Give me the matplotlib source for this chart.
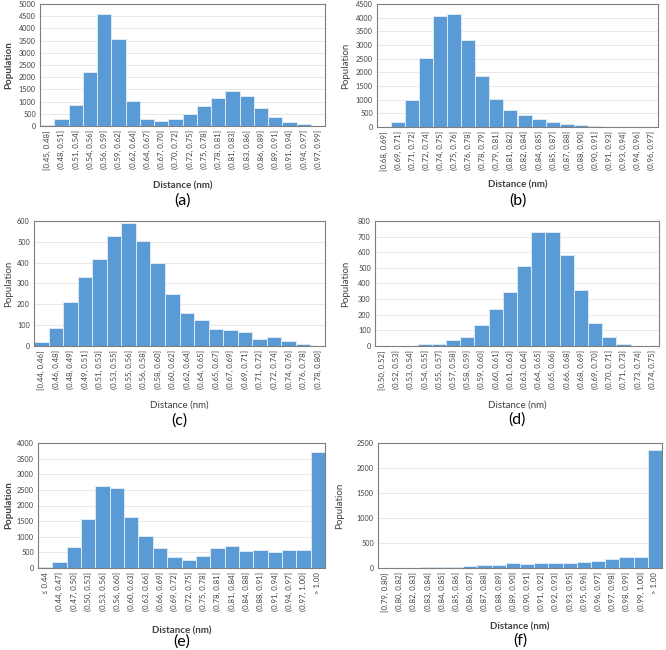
import matplotlib
matplotlib.use("Agg")
import matplotlib.pyplot as plt

plt.rcParams["font.family"] = ["Lato", "DejaVu Sans"]

labels_a = ["[0.45, 0.48]", "(0.48, 0.51]", "(0.51, 0.54]", "(0.54, 0.56]", "(0.56, 0.59]",
            "(0.59, 0.62]", "(0.62, 0.64]", "(0.64, 0.67]", "(0.67, 0.70]", "(0.70, 0.72]",
            "(0.72, 0.75]", "(0.75, 0.78]", "(0.78, 0.81]", "(0.81, 0.83]", "(0.83, 0.86]",
            "(0.86, 0.89]", "(0.89, 0.91]", "(0.91, 0.94]", "(0.94, 0.97]", "(0.97, 0.99]"]
values_a = [50, 300, 880, 2220, 4600, 3550, 1030, 290, 220, 290,
            480, 815, 1150, 1420, 1240, 750, 370, 180, 90, 15]

labels_b = ["[0.68, 0.69]", "(0.69, 0.71]", "(0.71, 0.72]", "(0.72, 0.74]", "(0.74, 0.75]",
            "(0.75, 0.76]", "(0.76, 0.78]", "(0.78, 0.79]", "(0.79, 0.81]", "(0.81, 0.82]",
            "(0.82, 0.84]", "(0.84, 0.85]", "(0.85, 0.87]", "(0.87, 0.88]", "(0.88, 0.90]",
            "(0.90, 0.91]", "(0.91, 0.93]", "(0.93, 0.94]", "(0.94, 0.96]", "(0.96, 0.97]"]
values_b = [15, 200, 1000, 2530, 4070, 4150, 3170, 1860, 1040, 620,
            430, 300, 200, 125, 90, 40, 10, 4, 2, 1]

labels_c = ["[0.44, 0.46]", "(0.46, 0.48]", "(0.48, 0.49]", "(0.49, 0.51]", "(0.51, 0.53]",
            "(0.53, 0.55]", "(0.55, 0.56]", "(0.56, 0.58]", "(0.58, 0.60]", "(0.60, 0.62]",
            "(0.62, 0.64]", "(0.64, 0.65]", "(0.65, 0.67]", "(0.67, 0.69]", "(0.69, 0.71]",
            "(0.71, 0.72]", "(0.72, 0.74]", "(0.74, 0.76]", "(0.76, 0.78]", "(0.78, 0.80]"]
values_c = [18, 85, 210, 330, 420, 530, 590, 505, 400, 250,
            160, 125, 82, 75, 68, 35, 45, 22, 8, 2]

labels_d = ["[0.50, 0.52]", "(0.52, 0.53]", "(0.53, 0.54]", "(0.54, 0.55]", "(0.55, 0.57]",
            "(0.57, 0.58]", "(0.58, 0.59]", "(0.59, 0.60]", "(0.60, 0.61]", "(0.61, 0.63]",
            "(0.63, 0.64]", "(0.64, 0.65]", "(0.65, 0.66]", "(0.66, 0.68]", "(0.68, 0.69]",
            "(0.69, 0.70]", "(0.70, 0.71]", "(0.71, 0.73]", "(0.73, 0.74]", "(0.74, 0.75]"]
values_d = [0, 1, 2, 12, 15, 40, 60, 135, 235, 345,
            515, 730, 728, 580, 360, 150, 55, 12, 2, 1]

labels_e = ["\u2264 0.44", "(0.44, 0.47]", "(0.47, 0.50]", "(0.50, 0.53]", "(0.53, 0.56]",
            "(0.56, 0.60]", "(0.60, 0.63]", "(0.63, 0.66]", "(0.66, 0.69]", "(0.69, 0.72]",
            "(0.72, 0.75]", "(0.75, 0.78]", "(0.78, 0.81]", "(0.81, 0.84]", "(0.84, 0.88]",
            "(0.88, 0.91]", "(0.91, 0.94]", "(0.94, 0.97]", "(0.97, 1.00]", "> 1.00"]
values_e = [20, 200, 680, 1560, 2610, 2570, 1620, 1020, 640, 340,
            270, 380, 630, 690, 560, 590, 510, 590, 580, 3700]

labels_f = ["[0.79, 0.80]", "(0.80, 0.82]", "(0.82, 0.83]", "(0.83, 0.84]", "(0.84, 0.85]",
            "(0.85, 0.86]", "(0.86, 0.87]", "(0.87, 0.88]", "(0.88, 0.89]", "(0.89, 0.90]",
            "(0.90, 0.91]", "(0.91, 0.92]", "(0.92, 0.93]", "(0.93, 0.95]", "(0.95, 0.96]",
            "(0.96, 0.97]", "(0.97, 0.98]", "(0.98, 0.99]", "(0.99, 1.00]", "> 1.00"]
values_f = [1, 3, 6, 15, 25, 30, 40, 65, 55, 95,
            75, 100, 110, 95, 120, 145, 190, 215, 225, 2360]

W, H = 666, 650
fig = plt.figure(figsize=(W / 100, H / 100), dpi=100)

# (letter, labels, values, ymax, ystep, box l/r/t/b in px, ylabel x, xlabel y, letter y, bold ylabel, bold xlabel)
panels = [
    ("(a)", labels_a, values_a, 5000, 500, (40, 325, 4, 126), 4, 186, 201, True, True),
    ("(b)", labels_b, values_b, 4500, 500, (377, 658, 4, 127), 341, 185, 201, False, True),
    ("(c)", labels_c, values_c, 600, 100, (34, 325, 221, 346), 4, 405, 421, False, False),
    ("(d)", labels_d, values_d, 800, 100, (375, 659, 221, 346), 341, 405, 420, False, False),
    ("(e)", labels_e, values_e, 4000, 500, (38, 325, 443, 568), 4, 631, 642, True, True),
    ("(f)", labels_f, values_f, 2500, 500, (378, 662, 443, 568), 335, 627, 641, False, True),
]

for letter, labels, values, ymax, ystep, box, ylx, xly, lty, ybold, xbold in panels:
    l, r, t, b = box
    ax = fig.add_axes([l / W, 1 - b / H, (r - l) / W, (b - t) / H])
    x = list(range(len(values)))
    ax.bar(x, values, width=1.0, color="#5B9BD5", edgecolor="#DCE9F6", linewidth=0.7, zorder=2)
    ax.set_xlim(-0.5, len(values) - 0.5)
    ax.set_ylim(0, ymax)
    ax.set_yticks(range(0, ymax + 1, ystep))
    ax.set_xticks(x)
    ax.set_xticklabels(labels, rotation=90, fontsize=5.6, color="#404040")
    ax.tick_params(axis="y", labelsize=5.2, labelcolor="#404040", length=0, pad=3)
    ax.tick_params(axis="x", length=0, pad=3)
    ax.grid(axis="y", color="#E4E4E4", linewidth=0.6, zorder=0)
    for s in ax.spines.values():
        s.set_color("#7F7F7F")
        s.set_linewidth(0.8)

    cx = (l + r) / 2 / W
    fig.text(ylx / W, 1 - (t + b) / 2 / H, "Population", rotation=90, ha="left", va="center",
             fontsize=7, fontweight="bold" if ybold else "normal", color="#404040")
    fig.text(cx, 1 - xly / H, "Distance (nm)", ha="center", va="center",
             fontsize=7, fontweight="bold" if xbold else "normal", color="#404040")
    fig.text(cx, 1 - lty / H, letter, ha="center", va="center", fontsize=11.5, color="black")

fig.savefig("out.png", dpi=100)
